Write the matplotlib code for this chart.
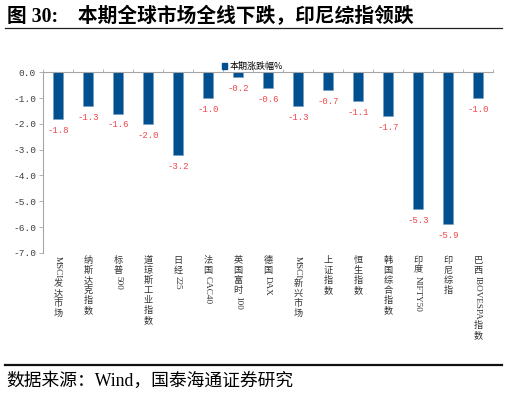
import re
import matplotlib
matplotlib.use("Agg")
import matplotlib.pyplot as plt
from matplotlib.patches import Patch
from matplotlib.textpath import TextPath
from matplotlib.font_manager import FontProperties

plt.rcParams["font.family"] = ["Liberation Serif", "Noto Sans CJK SC"]
plt.rcParams["axes.unicode_minus"] = False

# ── data ──────────────────────────────────────────────────────────────────────
markets = ["MSCI发达市场", "纳斯达克指数", "标普500", "道琼斯工业指数", "日经225",
           "法国CAC40", "英国富时100", "德国DAX", "MSCI新兴市场", "上证指数",
           "恒生指数", "韩国综合指数", "印度NIFTY50", "印尼综指", "巴西IBOVESPA指数"]
change_pct = [-1.8, -1.3, -1.6, -2.0, -3.2, -1.0, -0.2, -0.6, -1.3, -0.7,
              -1.1, -1.7, -5.3, -5.9, -1.0]
series_name = "本期涨跌幅%"
y_ticks = [-7.0, -6.0, -5.0, -4.0, -3.0, -2.0, -1.0, 0.0]

BAR_COLOR = "#00508F"
LABEL_RED = "#F0484C"
AXIS_GRAY = "#A6A6A6"

fig = plt.figure(figsize=(5.08, 3.95), dpi=100)
ax = fig.add_axes([0.0846, 0.360, 0.886, 0.457])

x = list(range(len(markets)))
ax.bar(x, change_pct, width=0.31, color=BAR_COLOR, edgecolor="#6F9CC4",
       linewidth=0.4, zorder=2)

# value labels under each bar
for i, v in zip(x, change_pct):
    ax.annotate(f"{v:.1f}", xy=(i, v), xytext=(0, -5), textcoords="offset points",
                ha="center", va="top", fontsize=6.5, color=LABEL_RED,
                family="Liberation Mono")

ax.set_xlim(-0.5, len(markets) - 0.5)
ax.set_ylim(-7, 0)
ax.set_yticks(y_ticks)
ax.set_yticklabels([f"{t:.1f}" for t in y_ticks], family="Liberation Mono",
                   fontsize=6.8, color="#404040")
ax.tick_params(axis="y", direction="out", length=3, width=0.6, color=AXIS_GRAY, pad=2)

# category axis sits on top (value 0), boundary ticks pointing up
ax.xaxis.tick_top()
ax.set_xticks([i - 0.5 for i in range(len(markets) + 1)])
ax.set_xticklabels([])
ax.tick_params(axis="x", direction="out", length=2.5, width=0.6, color=AXIS_GRAY)

for side in ("right", "bottom"):
    ax.spines[side].set_visible(False)
for side in ("left", "top"):
    ax.spines[side].set_color(AXIS_GRAY)
    ax.spines[side].set_linewidth(0.8)


# vertical category labels: CJK upright, latin runs turned
def vertical_label(ax, xpos, text, fs=6.6, start=2.0):
    y = start
    latin_fp = FontProperties(family="Liberation Serif")
    for seg in re.findall(r"[A-Za-z0-9]+|.", text):
        if seg.isascii():
            w = TextPath((0, 0), seg, size=fs, prop=latin_fp).get_extents().width
            ax.annotate(seg, xy=(xpos, 0), xycoords=("data", "axes fraction"),
                        xytext=(0, -y), textcoords="offset points", rotation=-90,
                        ha="center", va="top", fontsize=fs, color="#333333",
                        family="Liberation Serif")
            y += w + 1.0
        else:
            ax.annotate(seg, xy=(xpos, 0), xycoords=("data", "axes fraction"),
                        xytext=(0, -y), textcoords="offset points",
                        ha="center", va="top", fontsize=fs, color="#333333",
                        family="Noto Sans CJK SC")
            y += fs * 1.1


for i, name in zip(x, markets):
    vertical_label(ax, i, name)

ax.legend(handles=[Patch(color=BAR_COLOR, label=series_name)], loc="lower center",
          bbox_to_anchor=(0.465, 0.985), frameon=False,
          handlelength=0.55, handleheight=0.55, handletextpad=0.3,
          borderaxespad=0, prop={"family": ["Noto Sans CJK SC"], "size": 6.5})

# header / footer
fig.text(0.014, 0.958, "图 30:\u3000本期全球市场全线下跌，印尼综指领跌", fontsize=14.2,
         fontweight="bold", va="center", ha="left")
fig.add_artist(plt.Line2D([0.010, 0.988], [1 - 28.3 / 395] * 2, color="#222222",
                          linewidth=0.9))
fig.add_artist(plt.Line2D([0.010, 0.988], [1 - 365 / 395] * 2, color="#111111",
                          linewidth=1.6))
fig.text(0.012, 1 - 381 / 395, "数据来源：Wind，国泰海通证券研究",
         fontsize=12.8, va="center", ha="left")

fig.savefig("out.png", dpi=100)
